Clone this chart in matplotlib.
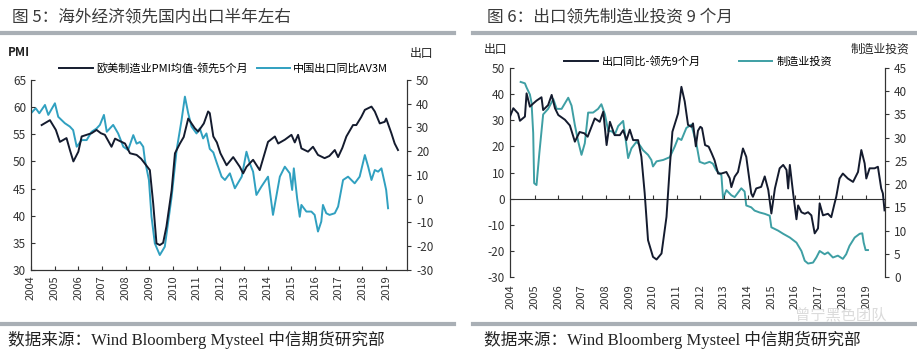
import matplotlib
matplotlib.use("Agg")
import matplotlib.pyplot as plt
from matplotlib.lines import Line2D

plt.rcParams['font.family'] = ['Noto Sans CJK SC', 'DejaVu Sans']
plt.rcParams['axes.unicode_minus'] = False

# 图5 数据 (小数年份)
pmi_t = [2004.45, 2004.8, 2005.05, 2005.22, 2005.5, 2005.65, 2005.79, 2006.0, 2006.14, 2006.35,
         2006.56, 2006.77, 2006.95, 2007.12, 2007.4, 2007.55, 2007.68, 2007.97, 2008.18, 2008.46,
         2008.65, 2008.81, 2009.02, 2009.16, 2009.3, 2009.44, 2009.58, 2009.72, 2009.94, 2010.08,
         2010.29, 2010.45, 2010.64, 2010.92, 2011.06, 2011.3, 2011.48, 2011.55, 2011.7, 2011.85,
         2012.0, 2012.26, 2012.54, 2012.82, 2012.96, 2013.1, 2013.38, 2013.66, 2014.01, 2014.3,
         2014.44, 2014.72, 2015.0, 2015.14, 2015.28, 2015.42, 2015.7, 2015.91, 2016.12, 2016.4,
         2016.6, 2016.83, 2016.97, 2017.15, 2017.32, 2017.6, 2017.74, 2017.95, 2018.1, 2018.38,
         2018.52, 2018.73, 2018.94, 2019.0, 2019.22, 2019.36, 2019.5]
pmi_v = [56.7, 57.6, 55.8, 53.6, 54.3, 52.0, 50.0, 51.8, 54.6, 54.9,
         55.2, 55.8, 55.2, 54.9, 52.7, 54.2, 53.9, 53.3, 51.5, 51.2,
         50.5, 49.6, 48.4, 42.3, 34.9, 34.6, 35.0, 38.0, 44.7, 51.5,
         53.3, 54.5, 57.9, 56.1, 55.5, 57.0, 59.2, 58.9, 54.6, 53.5,
         51.5, 49.3, 50.8, 49.0, 47.8, 49.0, 50.3, 48.4, 53.6, 54.6,
         53.3, 54.0, 54.9, 53.5, 54.9, 52.4, 51.8, 52.7, 51.2, 50.6,
         51.0, 52.1, 50.8, 52.5, 54.6, 56.7, 56.7, 58.2, 59.5, 60.1,
         59.2, 57.0, 57.3, 57.9, 55.2, 53.3, 52.1]

exp3m_t = [2004.0, 2004.2, 2004.35, 2004.59, 2004.73, 2005.01, 2005.15, 2005.43, 2005.64, 2005.78,
           2005.93, 2006.14, 2006.35, 2006.56, 2006.77, 2006.91, 2007.08, 2007.2, 2007.47, 2007.68,
           2007.9, 2008.1, 2008.32, 2008.46, 2008.6, 2008.74, 2008.81, 2008.98, 2009.09, 2009.23,
           2009.44, 2009.65, 2009.94, 2010.15, 2010.36, 2010.5, 2010.64, 2010.78, 2010.99, 2011.13,
           2011.27, 2011.41, 2011.55, 2011.7, 2011.85, 2012.05, 2012.19, 2012.4, 2012.61, 2012.9,
           2013.1, 2013.24, 2013.38, 2013.52, 2013.73, 2014.01, 2014.22, 2014.51, 2014.72, 2014.93,
           2015.03, 2015.1, 2015.24, 2015.35, 2015.42, 2015.63, 2015.84, 2015.98, 2016.12, 2016.26,
           2016.33, 2016.47, 2016.61, 2016.83, 2016.97, 2017.18, 2017.39, 2017.67, 2017.88, 2018.1,
           2018.24, 2018.38, 2018.52, 2018.66, 2018.8, 2018.94, 2019.0, 2019.08]
exp3m_v = [36.0, 38.1, 36.0, 39.5, 35.3, 40.2, 34.5, 31.8, 30.4, 28.9,
           21.9, 24.7, 24.7, 28.2, 29.6, 31.1, 35.3, 28.2, 31.1, 27.5,
           21.9, 20.5, 26.8, 23.2, 23.9, 21.9, 16.3, 7.9, -7.6, -18.8,
           -23.7, -20.2, 0.9, 20.5, 33.2, 43.0, 36.0, 30.4, 27.5, 29.6,
           25.4, 27.5, 21.0, 19.5, 15.0, 9.3, 7.9, 10.7, 4.4, 9.3,
           19.8, 14.9, 11.4, 1.6, 5.1, 9.3, -6.8, 9.3, 13.5, 10.7,
           3.7, 12.8, 0.2, -7.6, -2.6, -5.4, -5.4, -6.8, -13.8, -9.6,
           -2.6, -6.1, -6.8, -6.1, -3.3, 7.9, 9.3, 6.5, 9.3, 18.4,
           13.5, 7.9, 12.1, 11.4, 12.8, 6.5, 3.7, -4.0]

# 图6 数据
exp9_t = [2003.96, 2004.1, 2004.3, 2004.38, 2004.59, 2004.66, 2004.8, 2004.94, 2005.08, 2005.29,
          2005.36, 2005.57, 2005.72, 2005.86, 2006.0, 2006.28, 2006.49, 2006.7, 2006.9, 2007.1,
          2007.24, 2007.54, 2007.75, 2007.9, 2008.04, 2008.18, 2008.38, 2008.6, 2008.74, 2008.88,
          2009.02, 2009.16, 2009.37, 2009.51, 2009.65, 2009.79, 2010.0, 2010.15, 2010.36, 2010.57,
          2010.71, 2010.82, 2011.06, 2011.2, 2011.34, 2011.48, 2011.62, 2011.69, 2011.81, 2011.9,
          2012.0, 2012.07, 2012.2, 2012.35, 2012.48, 2012.6, 2012.75, 2012.89, 2013.1, 2013.24,
          2013.31, 2013.45, 2013.59, 2013.8, 2013.94, 2014.15, 2014.22, 2014.36, 2014.57, 2014.72,
          2014.87, 2015.0, 2015.15, 2015.35, 2015.5, 2015.64, 2015.71, 2015.78, 2015.92, 2016.06,
          2016.13, 2016.27, 2016.41, 2016.55, 2016.69, 2016.83, 2016.97, 2017.04, 2017.18, 2017.39,
          2017.53, 2017.67, 2017.74, 2017.88, 2018.02, 2018.23, 2018.45, 2018.66, 2018.8, 2018.94,
          2019.01, 2019.15, 2019.36, 2019.5, 2019.64, 2019.71, 2019.78]
exp9_v = [31.4, 34.6, 32.6, 29.8, 31.4, 40.3, 35.2, 36.4, 37.5, 38.8,
          33.9, 35.8, 39.7, 34.6, 32.0, 30.2, 28.0, 21.8, 25.5, 25.0,
          23.7, 30.7, 29.4, 33.3, 20.5, 29.4, 24.3, 24.3, 26.2, 22.4,
          26.4, 22.4, 22.4, 16.0, 2.0, -15.9, -22.3, -23.3, -21.0, -7.0,
          12.2, 25.6, 32.6, 42.8, 37.2, 28.2, 27.5, 28.8, 20.0, 26.0,
          27.5, 27.0, 20.5, 19.9, 17.3, 14.7, 9.6, 9.6, 10.2, 7.8,
          4.4, 8.4, 10.2, 19.2, 16.0, 2.0, 0.7, 3.9, 4.5, 8.5,
          3.3, -5.7, 3.9, 11.6, 12.9, 11.0, 3.9, 12.9, 2.0, -7.9,
          -2.6, -5.2, -5.8, -5.2, -6.4, -13.3, -11.4, -1.8, -6.4, -5.8,
          -7.1, -1.8, 0.7, 7.7, 9.6, 7.7, 6.4, 10.2, 18.6, 13.5,
          7.7, 11.6, 11.6, 12.2, 3.9, 2.0, -4.5]

inv_t = [2004.41, 2004.59, 2004.66, 2004.8, 2004.87, 2004.94, 2004.98, 2005.08, 2005.2, 2005.36,
         2005.57, 2005.79, 2005.93, 2006.14, 2006.42, 2006.56, 2006.7, 2006.84, 2006.98, 2007.12,
         2007.26, 2007.47, 2007.68, 2007.82, 2007.97, 2008.11, 2008.25, 2008.39, 2008.53, 2008.74,
         2008.95, 2009.09, 2009.3, 2009.44, 2009.58, 2009.79, 2009.93, 2010.0, 2010.15, 2010.43,
         2010.71, 2010.92, 2011.06, 2011.2, 2011.41, 2011.62, 2011.83, 2011.97, 2012.18, 2012.39,
         2012.53, 2012.67, 2012.89, 2012.96, 2013.1, 2013.31, 2013.45, 2013.73, 2013.87, 2013.94,
         2014.15, 2014.29, 2014.5, 2014.72, 2014.93, 2015.0, 2015.28, 2015.5, 2015.78, 2016.06,
         2016.27, 2016.41, 2016.55, 2016.76, 2016.9, 2017.04, 2017.25, 2017.39, 2017.6, 2017.81,
         2018.02, 2018.16, 2018.3, 2018.52, 2018.73, 2018.84, 2018.9, 2018.98, 2019.08]
inv_v = [42.0, 41.7, 40.8, 39.3, 37.5, 31.0, 20.2, 19.8, 26.7, 35.0,
         36.2, 38.3, 36.2, 36.2, 38.6, 36.9, 32.7, 29.2, 26.3, 28.8,
         35.4, 35.4, 36.2, 37.2, 35.0, 31.4, 31.4, 30.7, 32.5, 33.6,
         25.6, 27.7, 29.1, 28.4, 27.3, 26.3, 25.2, 23.8, 24.9, 25.2,
         25.8, 28.1, 29.9, 29.5, 32.1, 32.8, 28.8, 24.8, 24.4, 24.8,
         24.4, 23.0, 21.9, 16.9, 18.7, 17.6, 17.2, 19.1, 18.4, 15.4,
         15.0, 14.3, 13.9, 13.6, 13.2, 10.7, 10.0, 9.3, 8.5, 7.4,
         5.6, 3.5, 2.9, 3.1, 4.2, 5.6, 4.9, 5.3, 4.2, 4.6,
         3.9, 4.9, 6.7, 8.5, 9.3, 9.4, 7.4, 5.8, 5.8]

years = list(range(2004, 2020))

black = "#141b2e"
cyan5 = "#30a0c0"
cyan6 = "#3e9fa4"
tick_color = "#333333"
bar_gray = "#a9afb5"

fig = plt.figure(figsize=(9.17, 3.53), dpi=100)
W, H = 917, 353


def fx(px):
    return px / W


def fy(py):
    return 1 - py / H


# 标题、分隔条、数据来源
fig.text(fx(12), fy(17), "图 5：海外经济领先国内出口半年左右", fontsize=12, color="#3a3a3a", va="center")
fig.text(fx(487), fy(17), "图 6：出口领先制造业投资 9 个月", fontsize=12, color="#3a3a3a", va="center")
for x0, x1 in [(0, 454), (473, 917)]:
    for yy in [33, 324]:
        fig.add_artist(Line2D([fx(x0), fx(x1)], [fy(yy), fy(yy)], color=bar_gray, lw=3))
for x0 in [8, 484]:
    fig.text(fx(x0), fy(340), "数据来源：Wind Bloomberg Mysteel 中信期货研究部", fontsize=12,
             color="#222222", va="center", family=['Liberation Serif', 'Noto Sans CJK SC'])
# 水印
fig.text(fx(795), fy(315), "曾宁黑色团队", fontsize=11, color="#d2d2d2", va="center", alpha=0.8)

# 图5
ax1 = fig.add_axes([fx(31), fy(270), fx(376), (270 - 80) / H])
ax1b = ax1.twinx()
ax1.plot(pmi_t, pmi_v, color=black, lw=1.4, label="欧美制造业PMI均值-领先5个月", zorder=3)
ax1b.plot(exp3m_t, exp3m_v, color=cyan5, lw=1.4, label="中国出口同比AV3M")
ax1.set_zorder(ax1b.get_zorder() + 1)
ax1.patch.set_visible(False)
ax1.set_xlim(2004, 2019.88)
ax1.set_ylim(30, 65)
ax1b.set_ylim(-30, 50)
ax1.set_yticks(range(30, 66, 5))
ax1b.set_yticks(range(-30, 51, 10))
ax1.set_xticks(years)
ax1.set_xticklabels([str(y) for y in years], rotation=90, fontsize=8)
ax1.tick_params(axis="x", direction="in", length=3, colors=tick_color, pad=4)
ax1.tick_params(axis="y", direction="in", length=3, colors=tick_color, labelsize=8.5)
ax1b.tick_params(axis="y", direction="out", length=3, colors=tick_color, labelsize=8.5)
for a in (ax1, ax1b):
    a.spines["top"].set_visible(False)
    for s in a.spines.values():
        s.set_color("#333333")
        s.set_linewidth(0.8)
fig.text(fx(8), fy(53), "PMI", fontsize=8.5, color="#222222", va="center", weight="bold")
fig.text(fx(410), fy(53), "出口", fontsize=8.5, color="#222222", va="center")
h1, l1 = ax1.get_legend_handles_labels()
h2, l2 = ax1b.get_legend_handles_labels()
ax1.legend(h1 + h2, l1 + l2, ncol=2, frameon=False, fontsize=8, loc="center left",
           bbox_to_anchor=(fx(24) / fx(376), 1.06), handlelength=3, handletextpad=0.3,
           columnspacing=0.8, borderaxespad=0)

# 图6
ax2 = fig.add_axes([fx(510), fy(277), fx(375), (277 - 68) / H])
ax2b = ax2.twinx()
ax2.plot(exp9_t, exp9_v, color=black, lw=1.4, label="出口同比-领先9个月", zorder=3)
ax2b.plot(inv_t, inv_v, color=cyan6, lw=1.4, label="制造业投资")
ax2.set_zorder(ax2b.get_zorder() + 1)
ax2.patch.set_visible(False)
ax2.set_xlim(2003.96, 2019.8)
ax2.set_ylim(-30, 50)
ax2b.set_ylim(0, 45)
ax2.set_yticks(range(-30, 51, 10))
ax2b.set_yticks(range(0, 46, 5))
ax2.set_xticks(years)
ax2.set_xticklabels([str(y) for y in years], rotation=90, fontsize=8)
ax2.tick_params(axis="x", length=0, colors=tick_color, pad=5)
ax2.tick_params(axis="y", direction="in", length=3, colors=tick_color, labelsize=8.5)
ax2b.tick_params(axis="y", direction="out", length=3, colors=tick_color, labelsize=8.5)
for a in (ax2, ax2b):
    a.spines["top"].set_visible(False)
    a.spines["bottom"].set_visible(False)
    for s in a.spines.values():
        s.set_color("#333333")
        s.set_linewidth(0.8)
# 零轴与刻度
y0, y1 = ax2.get_ylim()
zero_ax = ax2.secondary_xaxis((0 - y0) / (y1 - y0))
zero_ax.set_xticks(years[1:])
zero_ax.tick_params(axis="x", direction="in", length=3, labelbottom=False, color="#333333")
zero_ax.spines["bottom"].set_color("#333333")
zero_ax.spines["bottom"].set_linewidth(0.8)
fig.text(fx(484), fy(49), "出口", fontsize=8.5, color="#222222", va="center")
fig.text(fx(909), fy(49), "制造业投资", fontsize=8.5, color="#222222", va="center", ha="right")
h1, l1 = ax2.get_legend_handles_labels()
h2, l2 = ax2b.get_legend_handles_labels()
ax2.legend(h1 + h2, l1 + l2, ncol=2, frameon=False, fontsize=8, loc="center left",
           bbox_to_anchor=(fx(50) / fx(375), 1.03), handlelength=3, handletextpad=0.4,
           columnspacing=3.4, borderaxespad=0)

plt.savefig("out.png", dpi=100)
